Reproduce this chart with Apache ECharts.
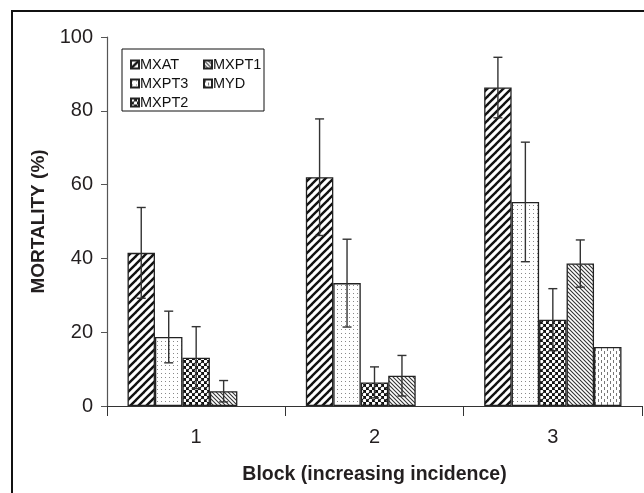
<!DOCTYPE html>
<html><head><meta charset="utf-8">
<script src="https://cdn.jsdelivr.net/npm/echarts@6/dist/echarts.min.js"></script>
<style>html,body{margin:0;padding:0;background:#fff}#c{width:644px;height:493px}</style>
</head><body><div id="c"></div>
<script>
// ---- data ----
const categories = ['1', '2', '3'];
const seriesNames = ['MXAT', 'MXPT3', 'MXPT2', 'MXPT1', 'MYD'];
const MXAT  = [41.5, 62.0, 86.3];
const MXPT3 = [18.7, 33.3, 55.3];
const MXPT2 = [13.1, 6.4, 23.4];
const MXPT1 = [4.0, 8.2, 38.6];
const MYD   = [null, null, 16.0];
const MXAT_err  = [12.3, 15.8, 8.2];
const MXPT3_err = [7.0, 11.9, 16.2];
const MXPT2_err = [8.4, 4.2, 8.4];
const MXPT1_err = [2.9, 5.5, 6.4];
const MYD_err   = [null, null, null];
const yTicks = [0, 20, 40, 60, 80, 100];

const values = [MXAT, MXPT3, MXPT2, MXPT1, MYD];
const errors = [MXAT_err, MXPT3_err, MXPT2_err, MXPT1_err, MYD_err];

// ---- patterns ----
function tile(w, h, draw) {
  const c = document.createElement('canvas');
  c.width = w; c.height = h;
  const ctx = c.getContext('2d');
  ctx.fillStyle = '#fff'; ctx.fillRect(0, 0, w, h);
  draw(ctx);
  return { image: c, repeat: 'repeat' };
}
const patterns = {
  MXAT: tile(8, 8, ctx => {
    ctx.strokeStyle = '#111'; ctx.lineWidth = 2.4;
    for (let k = -1; k <= 1; k++) {
      ctx.beginPath(); ctx.moveTo(k * 8 - 1, 9); ctx.lineTo(k * 8 + 9, -1); ctx.stroke();
    }
  }),
  MXPT3: tile(4, 4, ctx => {
    ctx.fillStyle = '#888'; ctx.fillRect(1, 1, 1, 1);
  }),
  MXPT2: tile(6, 6, ctx => {
    ctx.fillStyle = '#111'; ctx.fillRect(0, 0, 6, 6);
    ctx.fillStyle = '#fff';
    ctx.beginPath(); ctx.arc(1.5, 1.5, 1.8, 0, Math.PI * 2); ctx.fill();
    ctx.beginPath(); ctx.arc(4.5, 4.5, 1.8, 0, Math.PI * 2); ctx.fill();
  }),
  MXPT1: tile(4, 4, ctx => {
    ctx.strokeStyle = '#333'; ctx.lineWidth = 1.1;
    for (let k = -1; k <= 1; k++) {
      ctx.beginPath(); ctx.moveTo(k * 4 - 1, -1); ctx.lineTo(k * 4 + 5, 5); ctx.stroke();
    }
  }),
  MYD: tile(6, 6, ctx => {
    ctx.fillStyle = '#777';
    ctx.fillRect(1, 0, 1, 3);
    ctx.fillRect(4, 3, 1, 3);
  })
};

const GAP = 0.23;
const FONT = 'Arial, "Liberation Sans", sans-serif';

const series = [];
seriesNames.forEach((name, i) => {
  series.push({
    name, type: 'bar', data: values[i], barGap: '0%', barCategoryGap: (GAP * 100) + '%',
    itemStyle: { color: patterns[name], borderColor: '#222', borderWidth: 1.3 },
    z: 2
  });
});
seriesNames.forEach((name, i) => {
  const data = [];
  values[i].forEach((v, j) => { if (v != null && errors[i][j] != null) data.push([j, v, errors[i][j]]); });
  series.push({
    type: 'custom', name: name + '_err', z: 5, silent: true,
    encode: { x: 0, y: 1 },
    data,
    renderItem: (params, api) => {
      const idx = api.value(0), m = api.value(1), e = api.value(2);
      const catW = api.size([1, 0])[0];
      const bw = catW * (1 - GAP) / seriesNames.length;
      const x = api.coord([idx, 0])[0] + (i - (seriesNames.length - 1) / 2) * bw;
      const yt = api.coord([idx, m + e])[1];
      const yb = api.coord([idx, m - e])[1];
      const cw = 4.5;
      const st = { stroke: '#333', lineWidth: 1.4 };
      return { type: 'group', children: [
        { type: 'line', shape: { x1: x, y1: yt, x2: x, y2: yb }, style: st },
        { type: 'line', shape: { x1: x - cw, y1: yt, x2: x + cw, y2: yt }, style: st },
        { type: 'line', shape: { x1: x - cw, y1: yb, x2: x + cw, y2: yb }, style: st }
      ]};
    }
  });
});

const legendCommon = {
  orient: 'vertical', icon: 'rect', itemWidth: 8, itemHeight: 8, itemGap: 4,
  textStyle: { fontFamily: FONT, fontSize: 14.5, color: '#111', padding: [0, 0, 0, -4] },
  selectedMode: false, z: 20
};

const chart = echarts.init(document.getElementById('c'), null, { renderer: 'canvas' });
chart.setOption({
  animation: false,
  backgroundColor: '#fff',
  grid: { left: 107, right: 2, top: 37, bottom: 87 },
  legend: [
    Object.assign({}, legendCommon, { left: 125, top: 52, data: ['MXAT', 'MXPT3', 'MXPT2'] }),
    Object.assign({}, legendCommon, { left: 198, top: 52, data: ['MXPT1', 'MYD'] })
  ],
  graphic: [
    { type: 'rect', shape: { x: 12, y: 11, width: 700, height: 600 }, style: { fill: null, stroke: '#111', lineWidth: 2 }, z: -1 },
    { type: 'rect', shape: { x: 122, y: 49, width: 142, height: 62 }, style: { fill: null, stroke: '#111', lineWidth: 1 }, z: 1 }
  ],
  xAxis: {
    type: 'category', data: categories,
    name: 'Block (increasing incidence)', nameLocation: 'middle', nameGap: 59,
    nameTextStyle: { fontFamily: FONT, fontSize: 19.5, fontWeight: 'bold', color: '#231f20' },
    axisLine: { lineStyle: { color: '#333', width: 1.2 } },
    axisTick: { show: true, length: 10, alignWithLabel: false, lineStyle: { color: '#333' } },
    axisLabel: { fontFamily: FONT, fontSize: 20, color: '#231f20', margin: 21 }
  },
  yAxis: {
    type: 'value', min: 0, max: 100, interval: 20,
    name: 'MORTALITY (%)', nameLocation: 'middle', nameGap: 59, nameRotate: 90,
    nameTextStyle: { fontFamily: FONT, fontSize: 19, fontWeight: 'bold', color: '#231f20' },
    axisLine: { show: true, lineStyle: { color: '#555', width: 1.2 } },
    axisTick: { show: true, length: 6, lineStyle: { color: '#555' } },
    splitLine: { show: false },
    axisLabel: { fontFamily: FONT, fontSize: 20, color: '#231f20', margin: 14,
      formatter: v => yTicks.includes(v) ? String(v) : '' }
  },
  series
});
</script></body></html>
